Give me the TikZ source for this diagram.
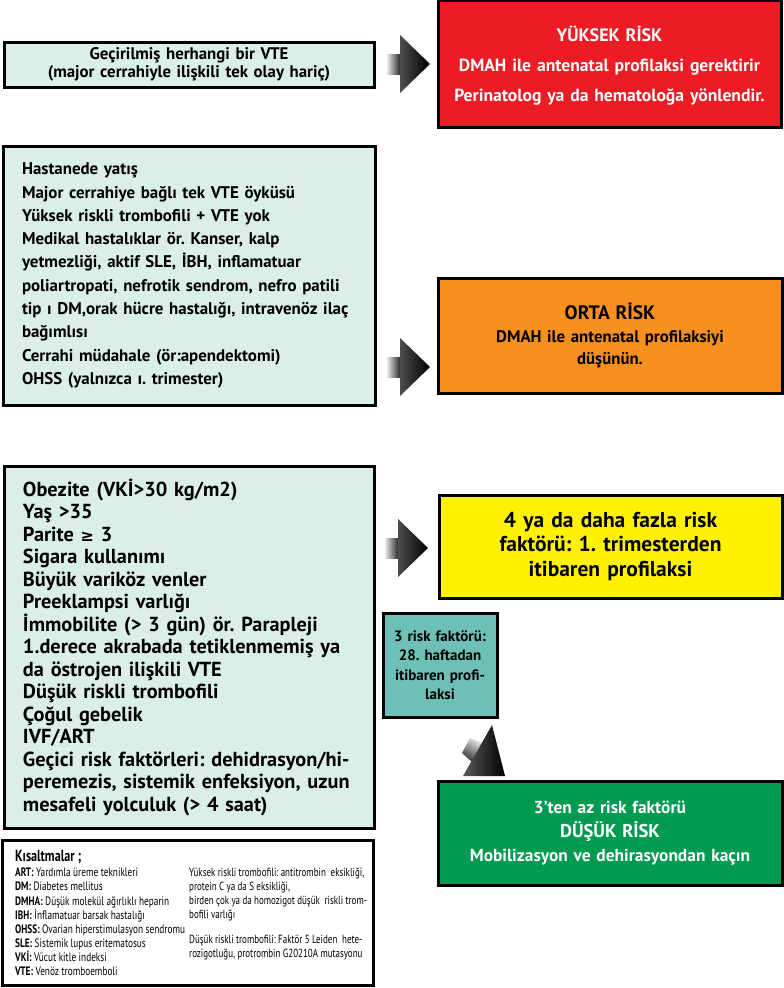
\documentclass[tikz,border=0pt]{standalone}
\usepackage{fontspec}
\setmainfont{PT Sans}
\newfontfamily\dar[FakeStretch=0.76]{PT Sans}
\newfontfamily\sembol{DejaVu Sans}
\frenchspacing

\definecolor{acik}{RGB}{217,239,232}
\definecolor{kirmizi}{RGB}{237,28,36}
\definecolor{turuncu}{RGB}{247,144,30}
\definecolor{sari}{RGB}{255,242,0}
\definecolor{camgobegi}{RGB}{108,192,182}
\definecolor{yesil}{RGB}{0,155,80}

\begin{document}
\begin{tikzpicture}[x=1pt, y=-1pt,
    kutu/.style={draw, line width=3pt, inner sep=0pt, align=center, font=\bfseries},
    liste/.style={kutu, fill=acik, inner xsep=19pt, align=left},
    riskok/.pic={
        \shade[left color=black!8, right color=black!85] (0,-10) rectangle (13.5,10);
        \shade[left color=black!70, right color=black] (13,-29) -- (43,0) -- (13,29) -- cycle;
    }]
    \useasboundingbox (0,0) rectangle (784,988);

    % sol taraf: risk etkenleri
    \node[kutu, fill=acik, minimum width=370pt, minimum height=45pt, text width=362pt,
          font=\bfseries\fontsize{16.8}{17.5}\selectfont] (vte) at (189,64.5)
        {Geçirilmiş herhangi bir VTE\\(major cerrahiyle ilişkili tek olay hariç)};
    \node[liste, minimum width=372pt, minimum height=259pt, text width=334pt,
          font=\bfseries\fontsize{16.9}{23.3}\selectfont] (orta) at (189,275.5)
        {Hastanede yatış\\
         Major cerrahiye bağlı tek VTE öyküsü\\
         Yüksek riskli trombofili + VTE yok\\
         Medikal hastalıklar ör. Kanser, kalp\\
         yetmezliği, aktif SLE, İBH, inflamatuar\\
         poliartropati, nefrotik sendrom, nefro patili\\
         tip ı DM,orak hücre hastalığı, intravenöz ilaç\\
         bağımlısı\\
         Cerrahi müdahale (ör:apendektomi)\\
         OHSS (yalnızca ı. trimester)};
    \node[liste, minimum width=370pt, minimum height=362pt, text width=332pt,
          font=\bfseries\fontsize{20.3}{22.5}\selectfont] (etken) at (189,647)
        {Obezite (VKİ>30 kg/m2)\\
         Yaş >35\\
         Parite {\sembol\bfseries\fontsize{16}{22.5}\selectfont ≥} 3\\
         Sigara kullanımı\\
         Büyük variköz venler\\
         Preeklampsi varlığı\\
         İmmobilite (> 3 gün) ör. Parapleji\\
         1.derece akrabada tetiklenmemiş ya\\
         da östrojen ilişkili VTE\\
         Düşük riskli trombofili\\
         Çoğul gebelik\\
         IVF/ART\\
         Geçici risk faktörleri: dehidrasyon/hi-\\
         peremezis, sistemik enfeksiyon, uzun\\
         mesafeli yolculuk (> 4 saat)};

    % sag taraf: risk duzeyleri
    \node[kutu, fill=kirmizi, text=white, minimum width=343pt, minimum height=127pt, text width=335pt,
          font=\bfseries\fontsize{17.6}{30}\selectfont] (yuksek) at (609.5,63.5)
        {\rule{0pt}{20pt}{\fontsize{18}{30}\selectfont YÜKSEK RİSK}\\
         DMAH ile antenatal profilaksi gerektirir\\
         Perinatolog ya da hematoloğa yönlendir.};
    \node[kutu, fill=turuncu, minimum width=344pt, minimum height=115pt, text width=335pt,
          font=\bfseries\fontsize{16.8}{22.5}\selectfont] (ortarisk) at (610,335.5)
        {{\fontsize{19.5}{22.5}\selectfont ORTA RİSK}\\
         DMAH ile antenatal profilaksiyi\\
         düşünün.};
    \node[kutu, fill=sari, minimum width=343pt, minimum height=103pt, text width=335pt,
          font=\bfseries\fontsize{21.5}{24.5}\selectfont] (dort) at (610.5,546.5)
        {4 ya da daha fazla risk\\faktörü: 1. trimesterden\\itibaren profilaksi};
    \node[kutu, fill=camgobegi, minimum width=114pt, minimum height=104pt, text width=112pt,
          font=\bfseries\fontsize{15}{19.5}\selectfont] (uc) at (440,665)
        {3 risk faktörü:\\28. haftadan\\itibaren profi-\\laksi};
    \node[kutu, fill=yesil, text=white, minimum width=344pt, minimum height=104pt, text width=335pt,
          font=\bfseries\fontsize{17.4}{24}\selectfont] (dusuk) at (610,833)
        {3’ten az risk faktörü\\
         {\fontsize{18.5}{24}\selectfont DÜŞÜK RİSK}\\
         Mobilizasyon ve dehirasyondan kaçın};

    % kisaltmalar
    \node[kutu, fill=white, minimum width=371pt, minimum height=145pt] (kisalt) at (187.5,912.5) {};
    \node[anchor=north west, inner sep=0pt, font=\dar\bfseries\fontsize{16}{16}\selectfont] (baslik) at (15,850) {Kısaltmalar ;};
    \node[anchor=north west, inner sep=0pt, align=left, font=\dar\fontsize{12.2}{14.1}\selectfont] (sol) at (15,868)
        {\textbf{ART:} Yardımla üreme teknikleri\\
         \textbf{DM:} Diabetes mellitus\\
         \textbf{DMHA:} Düşük molekül ağırlıklı heparin\\
         \textbf{IBH:} İnflamatuar barsak hastalığı\\
         \textbf{OHSS:} Ovarian hiperstimulasyon sendromu\\
         \textbf{SLE:} Sistemik lupus eritematosus\\
         \textbf{VKİ:} Vücut kitle indeksi\\
         \textbf{VTE:} Venöz tromboemboli};
    \node[anchor=north west, inner sep=0pt, align=left, font=\dar\fontsize{11.8}{14}\selectfont] (sag) at (189,868)
        {Yüksek riskli trombofili: antitrombin\ \ eksikliği,\\
         protein C ya da S eksikliği,\\
         birden çok ya da homozigot düşük\ \ riskli trom-\\
         bofili varlığı\\[11pt]
         Düşük riskli trombofili: Faktör 5 Leiden\ \ hete-\\
         rozigotluğu, protrombin G20210A mutasyonu};

    % oklar
    \pic at (387,64) {riskok};
    \pic at (387,367) {riskok};
    \pic at (385,548) {riskok};
    \shade[left color=black!10, right color=black!80, shading angle=-30]
        (470,738) -- (482,743) -- (472,762) -- (462,753) -- cycle;
    \shade[left color=black!65, right color=black] (492,725) -- (505,776) -- (463,776) -- cycle;
\end{tikzpicture}
\end{document}
